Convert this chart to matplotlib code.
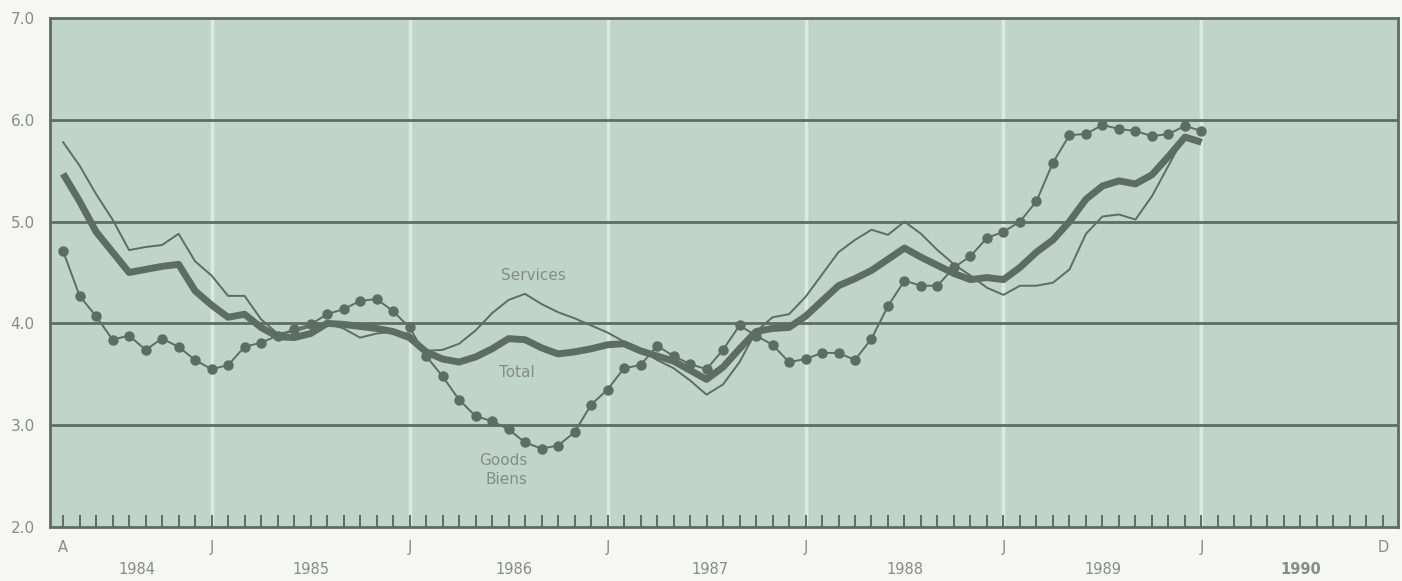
import numpy as np
import matplotlib.pyplot as plt
import matplotlib.transforms as mtransforms

# monthly data, index 0 = April 1984
goods = [4.71, 4.27, 4.07, 3.84, 3.88, 3.74, 3.85, 3.77, 3.64, 3.55,
         3.59, 3.77, 3.81, 3.88, 3.94, 3.99, 4.09, 4.14, 4.22, 4.24,
         4.12, 3.96, 3.68, 3.48, 3.25, 3.09, 3.04, 2.96, 2.83, 2.77,
         2.80, 2.93, 3.20, 3.35, 3.56, 3.59, 3.78, 3.68, 3.60, 3.55,
         3.74, 3.98, 3.88, 3.79, 3.62, 3.65, 3.71, 3.71, 3.64, 3.85,
         4.17, 4.42, 4.37, 4.37, 4.55, 4.66, 4.84, 4.90, 5.00, 5.20,
         5.58, 5.85, 5.86, 5.95, 5.91, 5.89, 5.84, 5.86, 5.94, 5.89]
total = [5.47, 5.20, 4.90, 4.70, 4.50, 4.53, 4.56, 4.58, 4.32, 4.18,
         4.06, 4.09, 3.96, 3.87, 3.86, 3.90, 4.00, 3.99, 3.97, 3.95,
         3.92, 3.86, 3.72, 3.65, 3.62, 3.67, 3.75, 3.85, 3.84, 3.76,
         3.70, 3.72, 3.75, 3.79, 3.80, 3.73, 3.68, 3.63, 3.54, 3.45,
         3.57, 3.75, 3.92, 3.95, 3.96, 4.07, 4.22, 4.37, 4.44, 4.52,
         4.63, 4.74, 4.65, 4.57, 4.49, 4.43, 4.45, 4.43, 4.55, 4.70,
         4.82, 5.00, 5.22, 5.35, 5.40, 5.37, 5.46, 5.64, 5.83, 5.78]
services = [5.78, 5.55, 5.27, 5.02, 4.72, 4.75, 4.77, 4.88, 4.61, 4.47,
            4.27, 4.27, 4.04, 3.90, 3.92, 3.97, 4.00, 3.95, 3.86, 3.90,
            3.92, 3.90, 3.73, 3.74, 3.80, 3.93, 4.10, 4.23, 4.29, 4.19,
            4.11, 4.05, 3.98, 3.91, 3.82, 3.75, 3.64, 3.56, 3.44, 3.30,
            3.40, 3.62, 3.92, 4.06, 4.09, 4.26, 4.48, 4.70, 4.82, 4.92,
            4.87, 5.00, 4.88, 4.72, 4.58, 4.47, 4.35, 4.28, 4.37, 4.37,
            4.40, 4.53, 4.88, 5.05, 5.07, 5.02, 5.25, 5.55, 5.85, 5.80]

month_labels = ['A', 'J', 'J', 'J', 'J', 'J', 'J', 'D']
month_pos = [0, 9, 21, 33, 45, 57, 69, 80]
years = ['1984', '1985', '1986', '1987', '1988', '1989', '1990']
year_pos = [4.5, 15, 27.3, 39.2, 51, 63, 75]
y_ticks = [2.0, 3.0, 4.0, 5.0, 6.0, 7.0]

dark = '#5d6d62'
grey_txt = '#858d88'
panel = '#c0d4ca'

fig = plt.figure(figsize=(14.02, 5.81), dpi=100, facecolor='#f6f6f2')
ax = fig.add_axes([0.0357, 0.093, 0.9613, 0.876])
ax.set_facecolor(panel)

x = np.arange(len(goods))

# white january lines
for p in month_pos[1:-1]:
    ax.axvline(p, color='#e4eee9', lw=2.5, alpha=0.8, zorder=1)

for v in y_ticks[1:-1]:
    ax.axhline(v, color=dark, lw=2, zorder=2)

ax.plot(x, services, color=dark, lw=1.4, zorder=3)
ax.plot(x, total, color=dark, lw=5, solid_capstyle='butt', zorder=4)
ax.plot(x, goods, color=dark, lw=1.4, marker='o', ms=6.5, zorder=5)

ax.set_xlim(-0.79, 80.9)
ax.set_ylim(2.0, 7.0)

for s in ax.spines.values():
    s.set_color(dark)
    s.set_linewidth(2)

ax.set_xticks(np.arange(0, 81))
ax.set_xticklabels([])
ax.tick_params(axis='x', direction='in', length=9, width=1.4, color=dark)
ax.set_yticks(y_ticks)
ax.set_yticklabels(['%.1f' % v for v in y_ticks], color=grey_txt, fontsize=11)
ax.tick_params(axis='y', length=0, pad=11)

trans = mtransforms.blended_transform_factory(ax.transData, ax.transAxes)
for lab, p in zip(month_labels, month_pos):
    ax.text(p, -0.041, lab, transform=trans, ha='center', va='center',
            color=grey_txt, fontsize=10.5)
for lab, p in zip(years, year_pos):
    ax.text(p, -0.084, lab, transform=trans, ha='center', va='center',
            color=grey_txt, fontsize=10.5,
            fontweight='bold' if lab == '1990' else 'normal')

ax.text(28.5, 4.47, 'Services', color=grey_txt, fontsize=11, ha='center', va='center', zorder=6)
ax.text(27.5, 3.52, 'Total', color=grey_txt, fontsize=11, ha='center', va='center', zorder=6)
ax.text(26.7, 2.65, 'Goods', color=grey_txt, fontsize=11, ha='center', va='center', zorder=6)
ax.text(26.9, 2.47, 'Biens', color=grey_txt, fontsize=11, ha='center', va='center', zorder=6)

fig.savefig('out.png', dpi=100, facecolor=fig.get_facecolor())
